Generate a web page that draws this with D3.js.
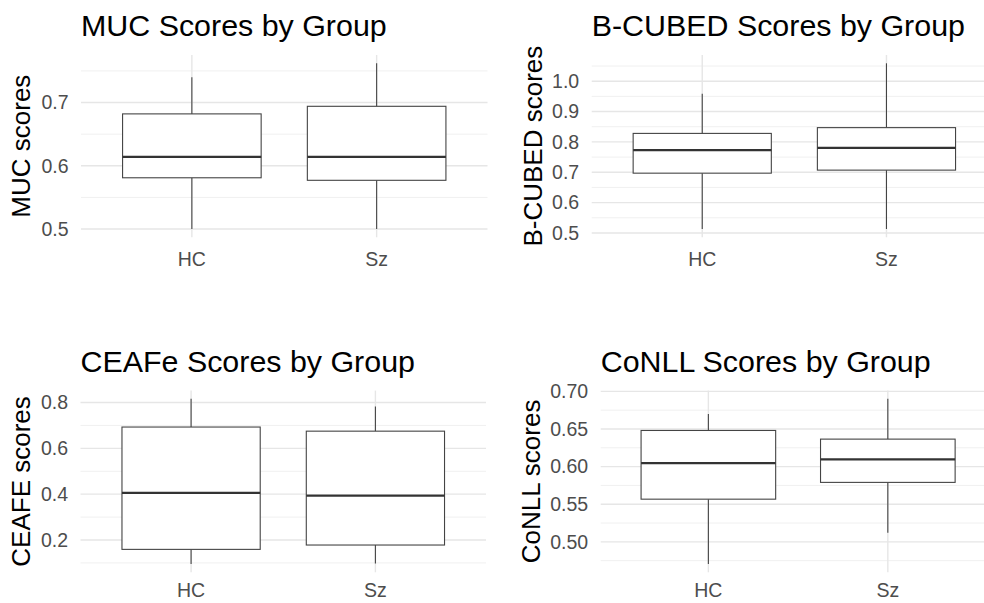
<!DOCTYPE html>
<html>
<head>
<meta charset="utf-8">
<script src="https://cdn.jsdelivr.net/npm/d3@7/dist/d3.min.js"></script>
<style>
  html, body { margin: 0; padding: 0; background: #fff; }
  svg { display: block; }
  text { font-family: "Liberation Sans", Arial, sans-serif; }
</style>
</head>
<body>
<svg id="chart" width="984" height="603"></svg>
<script>
// ---- Data (five-number summaries: lower whisker, Q1, median, Q3, upper whisker) ----
const groups = ["HC", "Sz"];

const mucTitle = "MUC Scores by Group";
const mucYLabel = "MUC scores";
const mucBoxes = [
  [0.500, 0.581, 0.614, 0.682, 0.740],
  [0.500, 0.577, 0.614, 0.694, 0.762]
];
const mucTicks = [0.5, 0.6, 0.7];
const mucMinor = [0.55, 0.65, 0.75];

const bcubedTitle = "B-CUBED Scores by Group";
const bcubedYLabel = "B-CUBED scores";
const bcubedBoxes = [
  [0.513, 0.697, 0.773, 0.828, 0.959],
  [0.513, 0.707, 0.780, 0.847, 1.059]
];
const bcubedTicks = [0.5, 0.6, 0.7, 0.8, 0.9, 1.0];
const bcubedMinor = [0.55, 0.65, 0.75, 0.85, 0.95, 1.05];

const ceafeTitle = "CEAFe Scores by Group";
const ceafeYLabel = "CEAFE scores";
const ceafeBoxes = [
  [0.095, 0.159, 0.406, 0.693, 0.816],
  [0.097, 0.178, 0.394, 0.675, 0.783]
];
const ceafeTicks = [0.2, 0.4, 0.6, 0.8];
const ceafeMinor = [0.1, 0.3, 0.5, 0.7];

const conllTitle = "CoNLL Scores by Group";
const conllYLabel = "CoNLL scores";
const conllBoxes = [
  [0.4705, 0.5567, 0.6045, 0.648, 0.670],
  [0.512, 0.579, 0.6097, 0.6365, 0.690]
];
const conllTicks = [0.50, 0.55, 0.60, 0.65, 0.70];
const conllMinor = [0.475, 0.525, 0.575, 0.625, 0.675];

// ---- Layout ----
const panels = [
  { title: mucTitle, ylab: mucYLabel, boxes: mucBoxes, ticks: mucTicks, minor: mucMinor, fmt: d3.format(".1f"),
    left: 81, right: 487.5, top: 55, bottom: 237.3, ylabX: 30, titleY: 35.5, xlabOff: 28.7 },
  { title: bcubedTitle, ylab: bcubedYLabel, boxes: bcubedBoxes, ticks: bcubedTicks, minor: bcubedMinor, fmt: d3.format(".1f"),
    left: 591.7, right: 997, top: 55, bottom: 237.3, ylabX: 541.5, titleY: 35.5, xlabOff: 28.7 },
  { title: ceafeTitle, ylab: ceafeYLabel, boxes: ceafeBoxes, ticks: ceafeTicks, minor: ceafeMinor, fmt: d3.format(".1f"),
    left: 80.5, right: 486, top: 390.6, bottom: 572.3, ylabX: 30, titleY: 371.5, xlabOff: 25 },
  { title: conllTitle, ylab: conllYLabel, boxes: conllBoxes, ticks: conllTicks, minor: conllMinor, fmt: d3.format(".2f"),
    left: 600.7, right: 995.5, top: 390.6, bottom: 572.3, ylabX: 540, titleY: 371.5, xlabOff: 25 }
];

const svg = d3.select("#chart");

panels.forEach(p => {
  const g = svg.append("g");
  const lo = d3.min(p.boxes, b => b[0]);
  const hi = d3.max(p.boxes, b => b[4]);
  const pad = (hi - lo) * 0.05;
  const y = d3.scaleLinear().domain([lo - pad, hi + pad]).range([p.bottom, p.top]);
  // discrete x: categories at 1..n, expanded by 0.6
  const xc = d3.scaleLinear().domain([0.4, groups.length + 0.6]).range([p.left, p.right]);
  const x = (i) => xc(i + 1);
  const unit = xc(2) - xc(1);
  const bw = unit * 0.75;

  // minor gridlines
  g.selectAll(".minor").data(p.minor.filter(v => v >= y.domain()[0] && v <= y.domain()[1]))
    .join("line")
    .attr("x1", p.left).attr("x2", p.right)
    .attr("y1", d => y(d)).attr("y2", d => y(d))
    .attr("stroke", "#f0f0f0").attr("stroke-width", 1);

  // major gridlines
  g.selectAll(".major").data(p.ticks)
    .join("line")
    .attr("x1", p.left).attr("x2", p.right)
    .attr("y1", d => y(d)).attr("y2", d => y(d))
    .attr("stroke", "#e6e6e6").attr("stroke-width", 1.4);

  // vertical major gridlines at categories
  g.selectAll(".vgrid").data(groups)
    .join("line")
    .attr("x1", (d, i) => x(i)).attr("x2", (d, i) => x(i))
    .attr("y1", p.top).attr("y2", p.bottom)
    .attr("stroke", "#e6e6e6").attr("stroke-width", 1.4);

  // y tick labels
  g.selectAll(".ytick").data(p.ticks)
    .join("text")
    .attr("x", p.left - 12.5).attr("y", d => y(d))
    .attr("dy", "0.35em")
    .attr("text-anchor", "end")
    .attr("font-size", 19.5)
    .attr("fill", "#4d4d4d")
    .text(d => p.fmt(d));

  // x tick labels
  g.selectAll(".xtick").data(groups)
    .join("text")
    .attr("x", (d, i) => x(i)).attr("y", p.bottom + p.xlabOff)
    .attr("text-anchor", "middle")
    .attr("font-size", 19.5)
    .attr("fill", "#4d4d4d")
    .text(d => d);

  // boxes
  const bx = g.selectAll(".box").data(p.boxes).join("g");
  bx.append("line")
    .attr("x1", (d, i) => x(i)).attr("x2", (d, i) => x(i))
    .attr("y1", d => y(d[3])).attr("y2", d => y(d[4]))
    .attr("stroke", "#444").attr("stroke-width", 1.1);
  bx.append("line")
    .attr("x1", (d, i) => x(i)).attr("x2", (d, i) => x(i))
    .attr("y1", d => y(d[0])).attr("y2", d => y(d[1]))
    .attr("stroke", "#444").attr("stroke-width", 1.1);
  bx.append("rect")
    .attr("x", (d, i) => x(i) - bw / 2).attr("width", bw)
    .attr("y", d => y(d[3])).attr("height", d => y(d[1]) - y(d[3]))
    .attr("fill", "#fff").attr("stroke", "#444").attr("stroke-width", 1.1);
  bx.append("line")
    .attr("x1", (d, i) => x(i) - bw / 2).attr("x2", (d, i) => x(i) + bw / 2)
    .attr("y1", d => y(d[2])).attr("y2", d => y(d[2]))
    .attr("stroke", "#333").attr("stroke-width", 2.2);

  // title
  g.append("text")
    .attr("x", p.left).attr("y", p.titleY)
    .attr("font-size", 30.4)
    .attr("fill", "#000")
    .text(p.title);

  // y axis title
  g.append("text")
    .attr("transform", `translate(${p.ylabX},${(p.top + p.bottom) / 2}) rotate(-90)`)
    .attr("text-anchor", "middle")
    .attr("font-size", 26)
    .attr("fill", "#000")
    .text(p.ylab);
});
</script>
</body>
</html>
